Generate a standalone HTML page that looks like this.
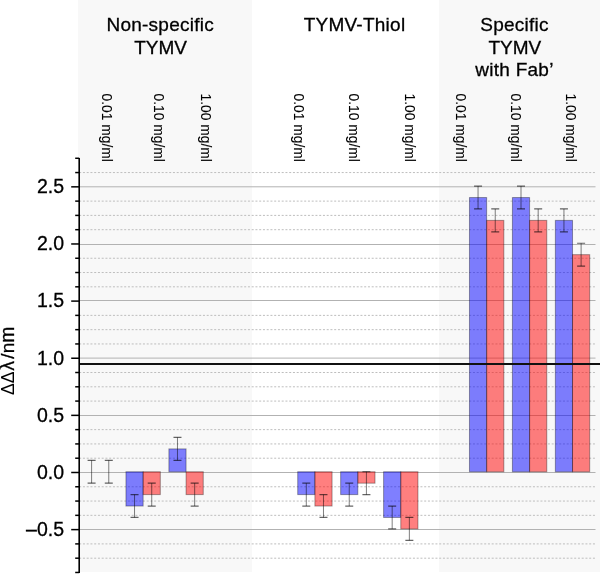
<!DOCTYPE html>
<html><head><meta charset="utf-8"><style>html,body{margin:0;padding:0;background:#fff;width:600px;height:574px;overflow:hidden;font-family:"Liberation Sans",sans-serif}svg{display:block;will-change:transform}text{stroke:#000;stroke-width:0.3px}</style></head><body><svg width="600" height="574" viewBox="0 0 600 574" font-family="Liberation Sans, sans-serif" fill="#000"><rect x="0" y="0" width="600" height="574" fill="#fff"/><rect x="78" y="0" width="174" height="572" fill="#f8f8f8"/><rect x="439" y="0" width="161" height="572" fill="#f8f8f8"/><line x1="79.2" y1="558.19" x2="595.5" y2="558.19" stroke="#bebebe" stroke-width="1" stroke-dasharray="2 1.75"/><line x1="79.2" y1="543.90" x2="595.5" y2="543.90" stroke="#bebebe" stroke-width="1" stroke-dasharray="2 1.75"/><line x1="79.2" y1="529.50" x2="595.5" y2="529.50" stroke="#b2b2b2" stroke-width="1"/><line x1="79.2" y1="515.34" x2="595.5" y2="515.34" stroke="#bebebe" stroke-width="1" stroke-dasharray="2 1.75"/><line x1="79.2" y1="501.06" x2="595.5" y2="501.06" stroke="#bebebe" stroke-width="1" stroke-dasharray="2 1.75"/><line x1="79.2" y1="486.77" x2="595.5" y2="486.77" stroke="#bebebe" stroke-width="1" stroke-dasharray="2 1.75"/><line x1="79.2" y1="472.50" x2="595.5" y2="472.50" stroke="#b2b2b2" stroke-width="1"/><line x1="79.2" y1="458.21" x2="595.5" y2="458.21" stroke="#bebebe" stroke-width="1" stroke-dasharray="2 1.75"/><line x1="79.2" y1="443.93" x2="595.5" y2="443.93" stroke="#bebebe" stroke-width="1" stroke-dasharray="2 1.75"/><line x1="79.2" y1="429.64" x2="595.5" y2="429.64" stroke="#bebebe" stroke-width="1" stroke-dasharray="2 1.75"/><line x1="79.2" y1="415.50" x2="595.5" y2="415.50" stroke="#b2b2b2" stroke-width="1"/><line x1="79.2" y1="401.08" x2="595.5" y2="401.08" stroke="#bebebe" stroke-width="1" stroke-dasharray="2 1.75"/><line x1="79.2" y1="386.80" x2="595.5" y2="386.80" stroke="#bebebe" stroke-width="1" stroke-dasharray="2 1.75"/><line x1="79.2" y1="372.51" x2="595.5" y2="372.51" stroke="#bebebe" stroke-width="1" stroke-dasharray="2 1.75"/><line x1="79.2" y1="358.10" x2="595.5" y2="358.10" stroke="#b2b2b2" stroke-width="1"/><line x1="79.2" y1="343.95" x2="595.5" y2="343.95" stroke="#bebebe" stroke-width="1" stroke-dasharray="2 1.75"/><line x1="79.2" y1="329.66" x2="595.5" y2="329.66" stroke="#bebebe" stroke-width="1" stroke-dasharray="2 1.75"/><line x1="79.2" y1="315.38" x2="595.5" y2="315.38" stroke="#bebebe" stroke-width="1" stroke-dasharray="2 1.75"/><line x1="79.2" y1="300.50" x2="595.5" y2="300.50" stroke="#b2b2b2" stroke-width="1"/><line x1="79.2" y1="286.82" x2="595.5" y2="286.82" stroke="#bebebe" stroke-width="1" stroke-dasharray="2 1.75"/><line x1="79.2" y1="272.53" x2="595.5" y2="272.53" stroke="#bebebe" stroke-width="1" stroke-dasharray="2 1.75"/><line x1="79.2" y1="258.25" x2="595.5" y2="258.25" stroke="#bebebe" stroke-width="1" stroke-dasharray="2 1.75"/><line x1="79.2" y1="244.50" x2="595.5" y2="244.50" stroke="#b2b2b2" stroke-width="1"/><line x1="79.2" y1="229.69" x2="595.5" y2="229.69" stroke="#bebebe" stroke-width="1" stroke-dasharray="2 1.75"/><line x1="79.2" y1="215.40" x2="595.5" y2="215.40" stroke="#bebebe" stroke-width="1" stroke-dasharray="2 1.75"/><line x1="79.2" y1="201.12" x2="595.5" y2="201.12" stroke="#bebebe" stroke-width="1" stroke-dasharray="2 1.75"/><line x1="79.2" y1="186.80" x2="595.5" y2="186.80" stroke="#b2b2b2" stroke-width="1"/><line x1="79.2" y1="172.56" x2="595.5" y2="172.56" stroke="#bebebe" stroke-width="1" stroke-dasharray="2 1.75"/><rect x="125.95" y="471.75" width="17.18" height="34.28" fill="#00f" fill-opacity="0.5" stroke="#000" stroke-opacity="0.35" stroke-width="1"/><rect x="143.13" y="471.75" width="17.18" height="22.85" fill="#f00" fill-opacity="0.5" stroke="#000" stroke-opacity="0.35" stroke-width="1"/><rect x="168.89" y="448.90" width="17.18" height="22.85" fill="#00f" fill-opacity="0.5" stroke="#000" stroke-opacity="0.35" stroke-width="1"/><rect x="186.07" y="471.75" width="17.18" height="22.85" fill="#f00" fill-opacity="0.5" stroke="#000" stroke-opacity="0.35" stroke-width="1"/><rect x="297.71" y="471.75" width="17.18" height="22.85" fill="#00f" fill-opacity="0.5" stroke="#000" stroke-opacity="0.35" stroke-width="1"/><rect x="314.89" y="471.75" width="17.18" height="34.28" fill="#f00" fill-opacity="0.5" stroke="#000" stroke-opacity="0.35" stroke-width="1"/><rect x="340.65" y="471.75" width="17.18" height="22.85" fill="#00f" fill-opacity="0.5" stroke="#000" stroke-opacity="0.35" stroke-width="1"/><rect x="357.83" y="471.75" width="17.18" height="11.43" fill="#f00" fill-opacity="0.5" stroke="#000" stroke-opacity="0.35" stroke-width="1"/><rect x="383.59" y="471.75" width="17.18" height="45.70" fill="#00f" fill-opacity="0.5" stroke="#000" stroke-opacity="0.35" stroke-width="1"/><rect x="400.77" y="471.75" width="17.18" height="57.13" fill="#f00" fill-opacity="0.5" stroke="#000" stroke-opacity="0.35" stroke-width="1"/><rect x="469.47" y="197.53" width="17.18" height="274.22" fill="#00f" fill-opacity="0.5" stroke="#000" stroke-opacity="0.35" stroke-width="1"/><rect x="486.65" y="220.38" width="17.18" height="251.37" fill="#f00" fill-opacity="0.5" stroke="#000" stroke-opacity="0.35" stroke-width="1"/><rect x="512.41" y="197.53" width="17.18" height="274.22" fill="#00f" fill-opacity="0.5" stroke="#000" stroke-opacity="0.35" stroke-width="1"/><rect x="529.59" y="220.38" width="17.18" height="251.37" fill="#f00" fill-opacity="0.5" stroke="#000" stroke-opacity="0.35" stroke-width="1"/><rect x="555.35" y="220.38" width="17.18" height="251.37" fill="#00f" fill-opacity="0.5" stroke="#000" stroke-opacity="0.35" stroke-width="1"/><rect x="572.53" y="254.66" width="17.18" height="217.09" fill="#f00" fill-opacity="0.5" stroke="#000" stroke-opacity="0.35" stroke-width="1"/><path d="M91.60,460.32V483.18" stroke="#000" stroke-opacity="0.5" stroke-width="1.0" fill="none"/><path d="M87.60,460.32h8M87.60,483.18h8" stroke="#000" stroke-opacity="0.6" stroke-width="1.2" fill="none"/><path d="M108.78,460.32V483.18" stroke="#000" stroke-opacity="0.5" stroke-width="1.0" fill="none"/><path d="M104.78,460.32h8M104.78,483.18h8" stroke="#000" stroke-opacity="0.6" stroke-width="1.2" fill="none"/><path d="M134.54,494.60V517.45" stroke="#000" stroke-opacity="0.5" stroke-width="1.0" fill="none"/><path d="M130.54,494.60h8M130.54,517.45h8" stroke="#000" stroke-opacity="0.6" stroke-width="1.2" fill="none"/><path d="M151.72,483.18V506.03" stroke="#000" stroke-opacity="0.5" stroke-width="1.0" fill="none"/><path d="M147.72,483.18h8M147.72,506.03h8" stroke="#000" stroke-opacity="0.6" stroke-width="1.2" fill="none"/><path d="M177.48,437.47V460.32" stroke="#000" stroke-opacity="0.5" stroke-width="1.0" fill="none"/><path d="M173.48,437.47h8M173.48,460.32h8" stroke="#000" stroke-opacity="0.6" stroke-width="1.2" fill="none"/><path d="M194.66,483.18V506.03" stroke="#000" stroke-opacity="0.5" stroke-width="1.0" fill="none"/><path d="M190.66,483.18h8M190.66,506.03h8" stroke="#000" stroke-opacity="0.6" stroke-width="1.2" fill="none"/><path d="M306.30,483.18V506.03" stroke="#000" stroke-opacity="0.5" stroke-width="1.0" fill="none"/><path d="M302.30,483.18h8M302.30,506.03h8" stroke="#000" stroke-opacity="0.6" stroke-width="1.2" fill="none"/><path d="M323.48,494.60V517.45" stroke="#000" stroke-opacity="0.5" stroke-width="1.0" fill="none"/><path d="M319.48,494.60h8M319.48,517.45h8" stroke="#000" stroke-opacity="0.6" stroke-width="1.2" fill="none"/><path d="M349.24,483.18V506.03" stroke="#000" stroke-opacity="0.5" stroke-width="1.0" fill="none"/><path d="M345.24,483.18h8M345.24,506.03h8" stroke="#000" stroke-opacity="0.6" stroke-width="1.2" fill="none"/><path d="M366.42,471.75V494.60" stroke="#000" stroke-opacity="0.5" stroke-width="1.0" fill="none"/><path d="M362.42,471.75h8M362.42,494.60h8" stroke="#000" stroke-opacity="0.6" stroke-width="1.2" fill="none"/><path d="M392.18,506.03V528.88" stroke="#000" stroke-opacity="0.5" stroke-width="1.0" fill="none"/><path d="M388.18,506.03h8M388.18,528.88h8" stroke="#000" stroke-opacity="0.6" stroke-width="1.2" fill="none"/><path d="M409.36,517.45V540.31" stroke="#000" stroke-opacity="0.5" stroke-width="1.0" fill="none"/><path d="M405.36,517.45h8M405.36,540.31h8" stroke="#000" stroke-opacity="0.6" stroke-width="1.2" fill="none"/><path d="M478.06,186.10V208.95" stroke="#000" stroke-opacity="0.5" stroke-width="1.0" fill="none"/><path d="M474.06,186.10h8M474.06,208.95h8" stroke="#000" stroke-opacity="0.6" stroke-width="1.2" fill="none"/><path d="M495.24,208.95V231.80" stroke="#000" stroke-opacity="0.5" stroke-width="1.0" fill="none"/><path d="M491.24,208.95h8M491.24,231.80h8" stroke="#000" stroke-opacity="0.6" stroke-width="1.2" fill="none"/><path d="M521.00,186.10V208.95" stroke="#000" stroke-opacity="0.5" stroke-width="1.0" fill="none"/><path d="M517.00,186.10h8M517.00,208.95h8" stroke="#000" stroke-opacity="0.6" stroke-width="1.2" fill="none"/><path d="M538.18,208.95V231.80" stroke="#000" stroke-opacity="0.5" stroke-width="1.0" fill="none"/><path d="M534.18,208.95h8M534.18,231.80h8" stroke="#000" stroke-opacity="0.6" stroke-width="1.2" fill="none"/><path d="M563.94,208.95V231.80" stroke="#000" stroke-opacity="0.5" stroke-width="1.0" fill="none"/><path d="M559.94,208.95h8M559.94,231.80h8" stroke="#000" stroke-opacity="0.6" stroke-width="1.2" fill="none"/><path d="M581.12,243.23V266.08" stroke="#000" stroke-opacity="0.5" stroke-width="1.0" fill="none"/><path d="M577.12,243.23h8M577.12,266.08h8" stroke="#000" stroke-opacity="0.6" stroke-width="1.2" fill="none"/><line x1="79.2" y1="364" x2="600" y2="364" stroke="#111" stroke-width="1.8"/><line x1="79.2" y1="158.0" x2="79.2" y2="573.0" stroke="#000" stroke-width="1.6"/><line x1="75.2" y1="572.47" x2="79.2" y2="572.47" stroke="#000" stroke-width="1.5"/><line x1="75.2" y1="558.19" x2="79.2" y2="558.19" stroke="#000" stroke-width="1.5"/><line x1="75.2" y1="543.90" x2="79.2" y2="543.90" stroke="#000" stroke-width="1.5"/><line x1="71.2" y1="529.62" x2="79.2" y2="529.62" stroke="#000" stroke-width="1.5"/><line x1="75.2" y1="515.34" x2="79.2" y2="515.34" stroke="#000" stroke-width="1.5"/><line x1="75.2" y1="501.06" x2="79.2" y2="501.06" stroke="#000" stroke-width="1.5"/><line x1="75.2" y1="486.77" x2="79.2" y2="486.77" stroke="#000" stroke-width="1.5"/><line x1="71.2" y1="472.49" x2="79.2" y2="472.49" stroke="#000" stroke-width="1.5"/><line x1="75.2" y1="458.21" x2="79.2" y2="458.21" stroke="#000" stroke-width="1.5"/><line x1="75.2" y1="443.93" x2="79.2" y2="443.93" stroke="#000" stroke-width="1.5"/><line x1="75.2" y1="429.64" x2="79.2" y2="429.64" stroke="#000" stroke-width="1.5"/><line x1="71.2" y1="415.36" x2="79.2" y2="415.36" stroke="#000" stroke-width="1.5"/><line x1="75.2" y1="401.08" x2="79.2" y2="401.08" stroke="#000" stroke-width="1.5"/><line x1="75.2" y1="386.80" x2="79.2" y2="386.80" stroke="#000" stroke-width="1.5"/><line x1="75.2" y1="372.51" x2="79.2" y2="372.51" stroke="#000" stroke-width="1.5"/><line x1="71.2" y1="358.23" x2="79.2" y2="358.23" stroke="#000" stroke-width="1.5"/><line x1="75.2" y1="343.95" x2="79.2" y2="343.95" stroke="#000" stroke-width="1.5"/><line x1="75.2" y1="329.66" x2="79.2" y2="329.66" stroke="#000" stroke-width="1.5"/><line x1="75.2" y1="315.38" x2="79.2" y2="315.38" stroke="#000" stroke-width="1.5"/><line x1="71.2" y1="301.10" x2="79.2" y2="301.10" stroke="#000" stroke-width="1.5"/><line x1="75.2" y1="286.82" x2="79.2" y2="286.82" stroke="#000" stroke-width="1.5"/><line x1="75.2" y1="272.53" x2="79.2" y2="272.53" stroke="#000" stroke-width="1.5"/><line x1="75.2" y1="258.25" x2="79.2" y2="258.25" stroke="#000" stroke-width="1.5"/><line x1="71.2" y1="243.97" x2="79.2" y2="243.97" stroke="#000" stroke-width="1.5"/><line x1="75.2" y1="229.69" x2="79.2" y2="229.69" stroke="#000" stroke-width="1.5"/><line x1="75.2" y1="215.40" x2="79.2" y2="215.40" stroke="#000" stroke-width="1.5"/><line x1="75.2" y1="201.12" x2="79.2" y2="201.12" stroke="#000" stroke-width="1.5"/><line x1="71.2" y1="186.84" x2="79.2" y2="186.84" stroke="#000" stroke-width="1.5"/><line x1="75.2" y1="172.56" x2="79.2" y2="172.56" stroke="#000" stroke-width="1.5"/><line x1="75.2" y1="158.27" x2="79.2" y2="158.27" stroke="#000" stroke-width="1.5"/><text x="64" y="193.14" text-anchor="end" font-size="19.5">2.5</text><text x="64" y="250.27" text-anchor="end" font-size="19.5">2.0</text><text x="64" y="307.40" text-anchor="end" font-size="19.5">1.5</text><text x="64" y="364.53" text-anchor="end" font-size="19.5">1.0</text><text x="64" y="421.66" text-anchor="end" font-size="19.5">0.5</text><text x="64" y="478.79" text-anchor="end" font-size="19.5">0.0</text><text x="64" y="535.92" text-anchor="end" font-size="19.5">–0.5</text><text transform="translate(14.1,389.25) rotate(-90)" text-anchor="middle" font-size="17.5" style="stroke-width:0px">Δ</text><text transform="translate(14.1,377.45) rotate(-90)" text-anchor="middle" font-size="17.5" style="stroke-width:0px">Δ</text><text transform="translate(14.1,365.8) rotate(-90)" text-anchor="middle" font-size="19.5">λ</text><text transform="translate(14.1,356.15) rotate(-90)" text-anchor="middle" font-size="19">/</text><text transform="translate(14.1,348) rotate(-90)" text-anchor="middle" font-size="19">n</text><text transform="translate(14.1,334.6) rotate(-90)" text-anchor="middle" font-size="19.3">m</text><text x="160.2" y="31" text-anchor="middle" font-size="19" letter-spacing="0.25">Non-specific</text><text x="160.6" y="53.6" text-anchor="middle" font-size="19">TYMV</text><text x="354.5" y="31" text-anchor="middle" font-size="19" letter-spacing="0.25">TYMV-Thiol</text><text x="514.5" y="31" text-anchor="middle" font-size="19" letter-spacing="0.25">Specific</text><text x="514.9" y="53.6" text-anchor="middle" font-size="19">TYMV</text><text x="514.5" y="76.2" text-anchor="middle" font-size="19" letter-spacing="0.25">with Fab’</text><text transform="translate(102.32,93.6) rotate(90)" font-size="13.8" style="stroke-width:0.08px">0.01 mg/ml</text><text transform="translate(153.92,93.6) rotate(90)" font-size="13.8" style="stroke-width:0.08px">0.10 mg/ml</text><text transform="translate(200.52,93.6) rotate(90)" font-size="13.8" style="stroke-width:0.08px">1.00 mg/ml</text><text transform="translate(293.72,93.6) rotate(90)" font-size="13.8" style="stroke-width:0.08px">0.01 mg/ml</text><text transform="translate(348.92,93.6) rotate(90)" font-size="13.8" style="stroke-width:0.08px">0.10 mg/ml</text><text transform="translate(404.92,93.6) rotate(90)" font-size="13.8" style="stroke-width:0.08px">1.00 mg/ml</text><text transform="translate(456.32,93.6) rotate(90)" font-size="13.8" style="stroke-width:0.08px">0.01 mg/ml</text><text transform="translate(510.92,93.6) rotate(90)" font-size="13.8" style="stroke-width:0.08px">0.10 mg/ml</text><text transform="translate(566.12,93.6) rotate(90)" font-size="13.8" style="stroke-width:0.08px">1.00 mg/ml</text></svg></body></html>
